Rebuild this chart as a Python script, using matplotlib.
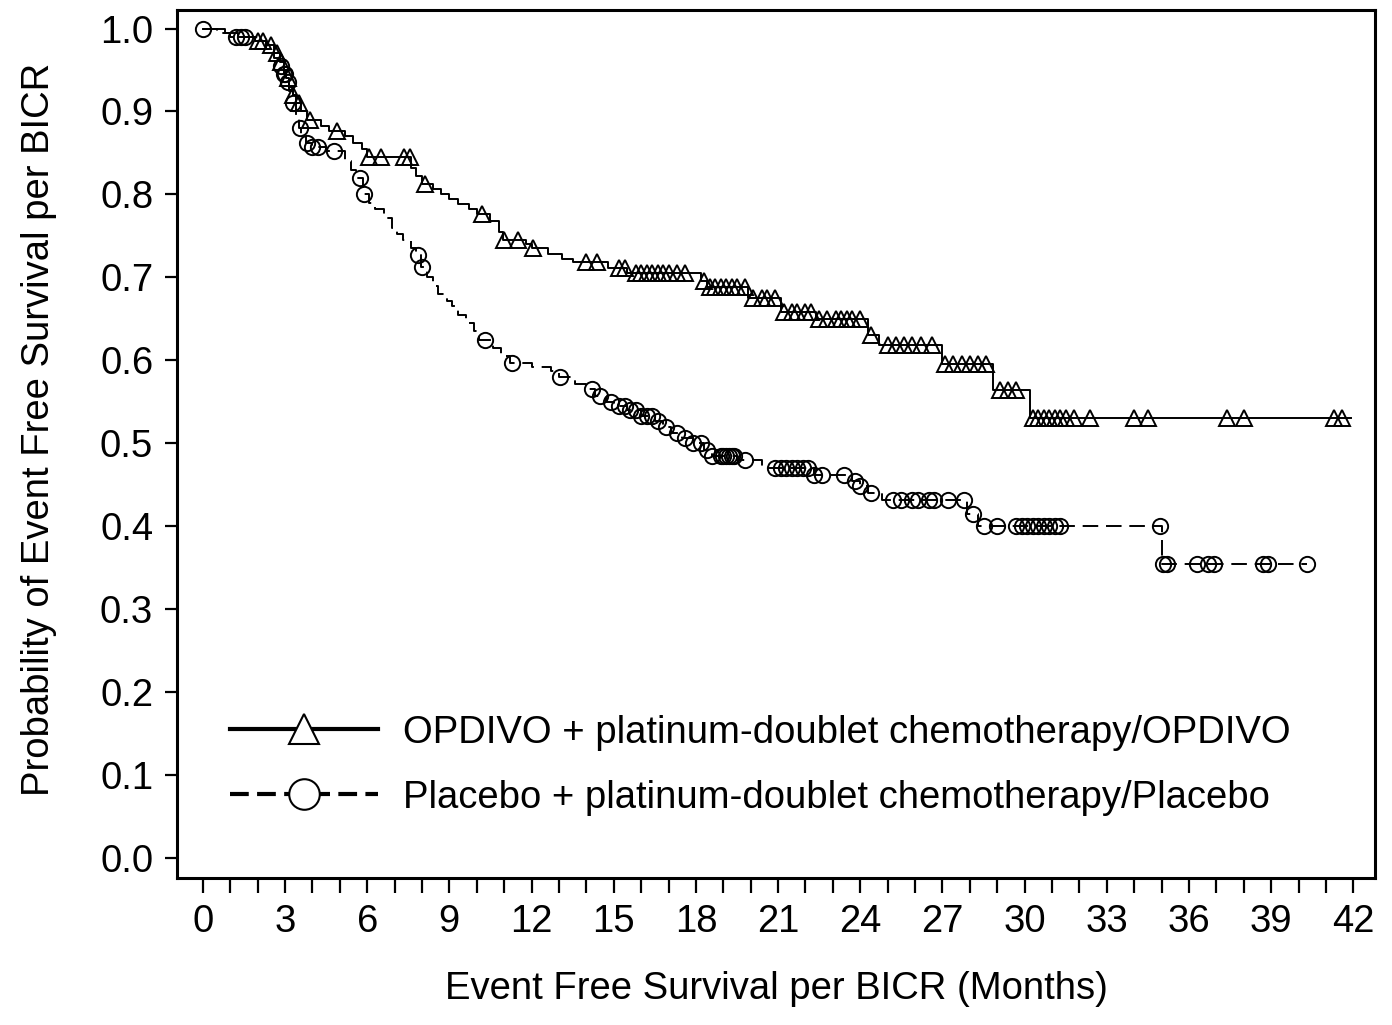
import numpy as np
import matplotlib
matplotlib.use('Agg')
import matplotlib.pyplot as plt
from matplotlib.lines import Line2D

plt.rcParams['font.family'] = ['Liberation Sans', 'DejaVu Sans']

# OPDIVO arm: event times (months) and survival after each event
opd_t = [0, 0.8, 1.3, 1.9, 2.3, 2.6, 2.8, 2.95, 3.05, 3.15, 3.3, 3.4, 3.6, 3.8,
         4.3, 4.6, 5.2, 5.5, 5.8, 6.0, 7.6, 7.8, 8.0, 8.4, 8.7, 9.0, 9.3, 9.7,
         10.0, 10.5, 10.8, 10.95, 11.8, 12.0, 12.6, 13.1, 13.5, 14.8, 15.5,
         18.2, 18.4, 19.9, 21.1, 22.4, 24.3, 24.7, 27.0, 28.85, 30.2]
opd_s = [1.0, 0.995, 0.99, 0.985, 0.98, 0.97, 0.96, 0.95, 0.94, 0.93, 0.92, 0.91, 0.90, 0.89,
         0.883, 0.877, 0.87, 0.862, 0.855, 0.845, 0.832, 0.822, 0.813, 0.806, 0.80, 0.795, 0.789, 0.782,
         0.777, 0.768, 0.755, 0.745, 0.74, 0.735, 0.728, 0.722, 0.718, 0.711, 0.705,
         0.696, 0.688, 0.675, 0.658, 0.650, 0.630, 0.618, 0.596, 0.564, 0.531]
opd_end = 41.9
opd_cens = [2.0, 2.2, 2.5, 2.7, 2.85, 3.1, 3.3, 3.5, 3.9, 4.9, 6.05, 6.5, 7.35, 7.55, 8.1,
            10.2, 11.0, 11.5, 12.05, 14.0, 14.4, 15.2, 15.4, 15.8, 16.0, 16.2, 16.4, 16.6,
            16.8, 17.0, 17.3, 17.6, 18.3, 18.5, 18.7, 18.9, 19.1, 19.3, 19.5, 19.8, 20.1,
            20.4, 20.6, 20.9, 21.2, 21.5, 21.7, 22.0, 22.2, 22.5, 22.8, 23.1, 23.3, 23.5,
            23.7, 24.0, 24.4, 25.0, 25.3, 25.6, 25.9, 26.2, 26.6, 27.1, 27.4, 27.7, 28.0,
            28.3, 28.6, 29.1, 29.4, 29.7, 30.3, 30.5, 30.7, 30.9, 31.1, 31.3, 31.5, 31.8,
            32.4, 34.0, 34.5, 37.4, 38.0, 41.3, 41.6]

# Placebo arm
pla_t = [0, 0.5, 1.0, 2.0, 2.3, 2.6, 2.8, 2.95, 3.05, 3.15, 3.3, 3.4, 3.5, 3.6, 3.75,
         4.0, 4.5, 5.2, 5.4, 5.6, 5.85, 6.05, 6.3, 6.6, 6.9, 7.1, 7.3, 7.6, 7.8, 7.95,
         8.2, 8.4, 8.6, 8.9, 9.1, 9.3, 9.6, 9.9, 10.1, 10.6, 10.9, 11.2, 12.0, 12.7,
         13.0, 13.6, 14.0, 14.3, 14.7, 15.0, 15.5, 16.0, 16.5, 16.8, 17.1, 17.5, 17.9,
         18.3, 18.6, 19.5, 20.4, 22.3, 23.7, 24.0, 24.3, 24.8, 27.9, 28.3, 35.0]
pla_s = [1.0, 0.995, 0.99, 0.985, 0.975, 0.965, 0.955, 0.945, 0.935, 0.925, 0.91, 0.895, 0.88, 0.87, 0.862,
         0.857, 0.852, 0.84, 0.83, 0.82, 0.80, 0.79, 0.782, 0.772, 0.76, 0.752, 0.745, 0.735, 0.727, 0.712,
         0.70, 0.69, 0.68, 0.672, 0.665, 0.655, 0.645, 0.635, 0.625, 0.615, 0.605, 0.597, 0.592, 0.587,
         0.58, 0.572, 0.565, 0.557, 0.55, 0.545, 0.54, 0.533, 0.527, 0.52, 0.513, 0.506, 0.50,
         0.492, 0.485, 0.48, 0.47, 0.462, 0.455, 0.448, 0.44, 0.432, 0.415, 0.40, 0.355]
pla_end = 40.3
pla_cens = [0.0, 1.2, 1.4, 1.55, 2.85, 2.95, 3.0, 3.1, 3.3, 3.55, 3.8, 4.0, 4.2, 4.8, 5.75,
            5.9, 7.85, 8.0, 10.3, 11.3, 13.05, 14.2, 14.5, 14.9, 15.2, 15.4, 15.6, 15.8,
            16.0, 16.2, 16.4, 16.6, 16.9, 17.3, 17.6, 17.9, 18.2, 18.4, 18.6, 18.9, 19.0,
            19.1, 19.2, 19.3, 19.4, 19.8, 20.9, 21.1, 21.3, 21.5, 21.7, 21.9, 22.1, 22.3,
            22.6, 23.4, 23.8, 24.0, 24.4, 25.2, 25.5, 25.9, 26.1, 26.5, 26.7, 27.2, 27.8,
            28.1, 28.5, 29.0, 29.7, 29.9, 30.1, 30.3, 30.5, 30.7, 30.9, 31.1, 31.3, 34.95,
            35.05, 35.2, 36.3, 36.7, 36.9, 38.7, 38.9, 40.3]

labels = ['OPDIVO + platinum-doublet chemotherapy/OPDIVO',
          'Placebo + platinum-doublet chemotherapy/Placebo']

fs = 27.5


def surv_at(times, surv, tt):
    idx = np.searchsorted(times, tt, side='right') - 1
    return np.array(surv)[idx]


fig = plt.figure(figsize=(13.92, 10.25), dpi=100)
ax = fig.add_axes([0.127, 0.1434, 0.861, 0.8466])

ax.step(opd_t + [opd_end], opd_s + [opd_s[-1]], where='post', color='black', lw=1.4)
ax.plot(opd_cens, surv_at(opd_t, opd_s, opd_cens), ls='none', marker='^', ms=11,
        mfc='none', mec='black', mew=1.4)

ax.step(pla_t + [pla_end], pla_s + [pla_s[-1]], where='post', color='black', lw=1.4,
        dashes=(8, 4))
ax.plot(pla_cens, surv_at(pla_t, pla_s, pla_cens), ls='none', marker='o', ms=11,
        mfc='none', mec='black', mew=1.4)

ax.set_xlim(-0.95, 42.8)
ax.set_ylim(-0.024, 1.022)
ax.set_xticks(np.arange(0, 43, 3))
ax.set_xticks(np.arange(0, 43, 1), minor=True)
ax.set_yticks(np.arange(0, 1.01, 0.1))
ax.set_yticklabels(['%.1f' % v for v in np.arange(0, 1.01, 0.1)])
ax.tick_params(axis='both', which='both', direction='out', width=1.6, labelsize=fs)
ax.tick_params(axis='x', which='both', length=11, pad=8)
ax.tick_params(axis='y', length=9, pad=8)
for sp in ax.spines.values():
    sp.set_linewidth(2.2)

ax.set_xlabel('Event Free Survival per BICR (Months)', fontsize=fs, labelpad=22)
ax.set_ylabel('Probability of Event Free Survival per BICR', fontsize=fs)
ax.yaxis.set_label_coords(-0.1, 0.517)

h1 = Line2D([], [], color='black', lw=3, marker='^', ms=22, mfc='white', mec='black', mew=1.5)
h2 = Line2D([], [], color='black', lw=3, dashes=(4.5, 2), marker='o', ms=22, mfc='white',
            mec='black', mew=1.5)
ax.legend([h1, h2], labels, loc='lower left', bbox_to_anchor=(0.044, 0.072), frameon=False,
          fontsize=fs, handlelength=3.9, handletextpad=0.65, labelspacing=0.76,
          borderpad=0, borderaxespad=0)

fig.savefig('out.png', dpi=100)
